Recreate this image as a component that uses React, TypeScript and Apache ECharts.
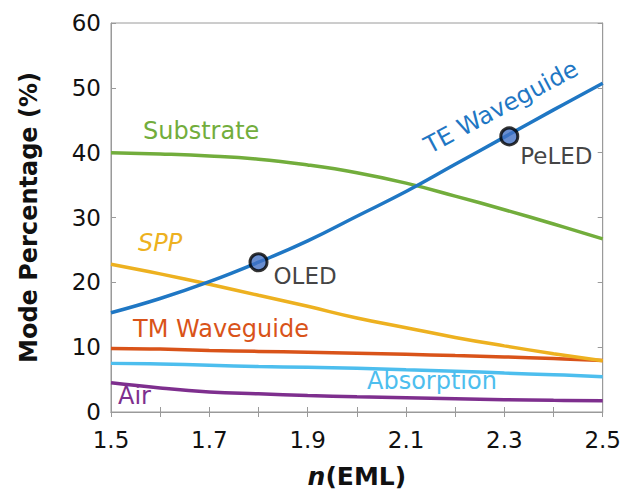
import React, { useEffect, useRef } from "react";
import * as echarts from "echarts";

const nValues = [1.5, 1.6, 1.7, 1.8, 1.9, 2.0, 2.1, 2.2, 2.3, 2.4, 2.5];
const teWaveguide = [15.3, 17.5, 20.1, 23.1, 26.4, 30.2, 34.0, 38.2, 42.4, 46.6, 50.7];
const substrate = [40.0, 39.8, 39.5, 39.0, 38.1, 36.9, 35.3, 33.3, 31.2, 29.0, 26.7];
const spp = [22.8, 21.3, 19.7, 18.0, 16.3, 14.5, 13.0, 11.5, 10.2, 9.0, 7.9];
const tmWaveguide = [9.8, 9.7, 9.5, 9.35, 9.2, 9.05, 8.9, 8.7, 8.5, 8.25, 7.95];
const absorption = [7.5, 7.4, 7.2, 7.0, 6.9, 6.75, 6.5, 6.3, 6.0, 5.75, 5.45];
const air = [4.5, 3.7, 3.1, 2.8, 2.55, 2.35, 2.2, 2.05, 1.9, 1.8, 1.75];
const devices = [
  { name: "OLED", n: 1.8, value: 23.1 },
  { name: "PeLED", n: 2.31, value: 42.5 },
];

const FONT = "DejaVu Sans";
const AXIS_COLOR = "#9a9a9a";

const pairs = (ys: number[]) => nValues.map((x, i) => [x, ys[i]]);

export default function App() {
  const ref = useRef<HTMLDivElement>(null);
  useEffect(() => {
    if (!ref.current) return;
    const chart = echarts.init(ref.current, undefined, { renderer: "svg" });
    const lineSeries = (name: string, data: number[], color: string) => ({
      name,
      type: "line",
      data: pairs(data),
      smooth: 0.45,
      showSymbol: false,
      lineStyle: { color, width: 3.5 },
      itemStyle: { color },
      z: 2,
    });
    const tickAxisCommon = {
      axisLine: { show: true, lineStyle: { color: AXIS_COLOR, width: 1 } },
      axisTick: { show: true, inside: true, length: 5, lineStyle: { color: AXIS_COLOR } },
      splitLine: { show: false },
    };
    chart.setOption({
      animation: false,
      backgroundColor: "#ffffff",
      textStyle: { fontFamily: FONT },
      grid: { left: 111, right: 21, top: 23, bottom: 84, show: true, borderColor: AXIS_COLOR, borderWidth: 1 },
      xAxis: [
        {
          type: "value",
          min: 1.5,
          max: 2.5,
          interval: 0.1,
          ...tickAxisCommon,
          axisLabel: {
            color: "#111",
            fontSize: 23,
            fontFamily: FONT,
            margin: 16,
            formatter: (v: number) => (Math.round(v * 10) % 2 === 1 ? v.toFixed(1) : ""),
          },
          name: "{i|n}{b|(EML)}",
          nameLocation: "middle",
          nameGap: 52,
          nameTextStyle: {
            rich: {
              i: { fontFamily: FONT, fontSize: 25, fontWeight: "bold", fontStyle: "italic", color: "#111" },
              b: { fontFamily: FONT, fontSize: 25, fontWeight: "bold", color: "#111" },
            },
          },
        },
        {
          type: "value",
          position: "top",
          min: 1.5,
          max: 2.5,
          interval: 0.1,
          ...tickAxisCommon,
          axisLabel: { show: false },
        },
      ],
      yAxis: [
        {
          type: "value",
          min: 0,
          max: 60,
          interval: 10,
          ...tickAxisCommon,
          axisLabel: { color: "#111", fontSize: 23, fontFamily: FONT, margin: 10 },
          name: "Mode Percentage (%)",
          nameLocation: "middle",
          nameGap: 70,
          nameTextStyle: { fontFamily: FONT, fontSize: 24, fontWeight: "bold", color: "#111" },
        },
        {
          type: "value",
          position: "right",
          min: 0,
          max: 60,
          interval: 10,
          ...tickAxisCommon,
          axisLabel: { show: false },
        },
      ],
      series: [
        lineSeries("Air", air, "#7e2f8e"),
        lineSeries("Absorption", absorption, "#4dbeee"),
        lineSeries("TM Waveguide", tmWaveguide, "#d95319"),
        lineSeries("SPP", spp, "#edb120"),
        lineSeries("Substrate", substrate, "#72ad3c"),
        lineSeries("TE Waveguide", teWaveguide, "#1f77c4"),
        {
          name: "Devices",
          type: "scatter",
          symbol: "circle",
          symbolSize: 17,
          z: 5,
          itemStyle: { color: "#4472c4", borderColor: "#000", borderWidth: 3 },
          data: devices.map((d, i) => ({
            name: d.name,
            value: [d.n, d.value],
            label: {
              show: true,
              position: "right",
              distance: 5,
              offset: i === 0 ? [0, 14] : [-4, 20],
              formatter: d.name,
              color: "#111",
              fontSize: 23,
              fontFamily: FONT,
            },
          })),
        },
      ],
      graphic: [
        { type: "text", left: 143, top: 119, style: { text: "Substrate", fill: "#72ad3c", font: `24px "${FONT}"` } },
        { type: "text", left: 138, top: 231, style: { text: "SPP", fill: "#edb120", font: `italic 24px "${FONT}"` } },
        { type: "text", left: 133, top: 317, style: { text: "TM Waveguide", fill: "#d95319", font: `24px "${FONT}"` } },
        { type: "text", left: 367, top: 369, style: { text: "Absorption", fill: "#4dbeee", font: `24px "${FONT}"` } },
        { type: "text", left: 118, top: 384, style: { text: "Air", fill: "#7e2f8e", font: `24px "${FONT}"` } },
        {
          type: "text",
          x: 501,
          y: 107,
          rotation: 0.49,
          style: {
            text: "TE Waveguide",
            fill: "#1f77c4",
            font: `24px "${FONT}"`,
            align: "center",
            verticalAlign: "middle",
          },
        },
      ],
    });
    return () => chart.dispose();
  }, []);
  return (
    <div
      ref={ref}
      style={{ position: "fixed", left: 0, top: 0, width: 624, height: 496, background: "#fff" }}
    />
  );
}
